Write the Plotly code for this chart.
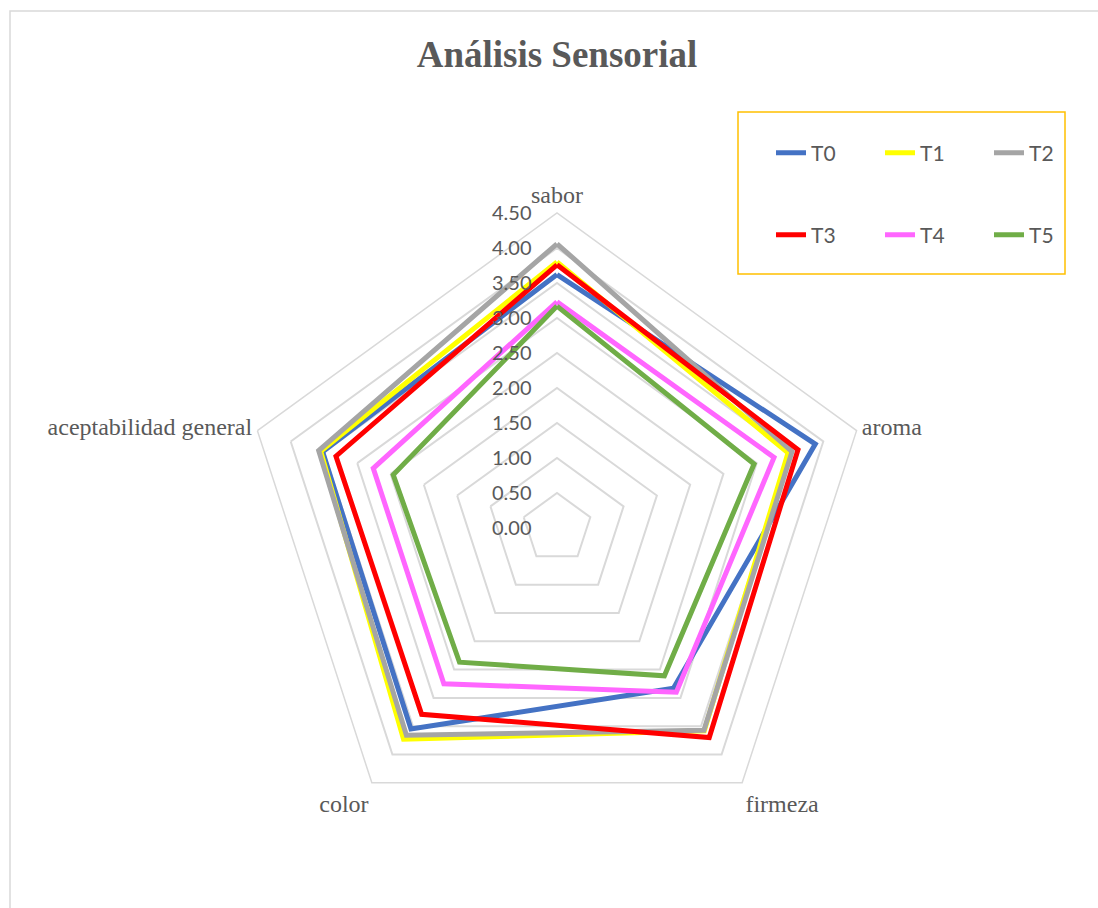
import plotly.graph_objects as go

categories = ["sabor", "aroma", "firmeza", "color", "aceptabilidad general"]
series_names = ["T0", "T1", "T2", "T3", "T4", "T5"]
T0 = [3.62, 3.88, 2.83, 3.55, 3.52]
T1 = [3.80, 3.47, 3.58, 3.73, 3.55]
T2 = [4.06, 3.53, 3.57, 3.66, 3.58]
T3 = [3.76, 3.62, 3.70, 3.29, 3.32]
T4 = [3.23, 3.26, 2.90, 2.75, 2.76]
T5 = [3.17, 2.96, 2.61, 2.37, 2.46]
values = [T0, T1, T2, T3, T4, T5]
colors = ["#4472C4", "#FFFF00", "#A5A5A5", "#FF0000", "#FF66FF", "#70AD47"]
title_text = "Análisis Sensorial"

W, H = 1098, 908
cx, cy, R = 557, 528, 315

fig = go.Figure()
for i, (name, vals, col) in enumerate(zip(series_names, values, colors)):
    fig.add_trace(go.Scatterpolar(
        r=vals + vals[:1],
        theta=categories + categories[:1],
        mode="lines",
        name=name,
        line=dict(color=col, width=5),
        legend="legend" if i < 3 else "legend2",
    ))

legend_common = dict(
    orientation="h",
    font=dict(family="Lato", size=21, color="#595959"),
    bgcolor="rgba(0,0,0,0)",
    borderwidth=0,
    entrywidth=64,
    xanchor="left",
    yanchor="middle",
)

fig.update_layout(
    width=W, height=H,
    margin=dict(l=0, r=0, t=0, b=0),
    paper_bgcolor="white",
    title=dict(text="<b>" + title_text + "</b>", x=cx / W, xanchor="center",
               y=1 - 54 / H, yanchor="middle", yref="paper",
               font=dict(family="Liberation Serif", size=37, color="#595959")),
    polar=dict(
        domain=dict(x=[(cx - R) / W, (cx + R) / W],
                    y=[(H - cy - R) / H, (H - cy + R) / H]),
        bgcolor="white",
        gridshape="linear",
        radialaxis=dict(range=[0, 4.5], dtick=0.5, tick0=0, tickformat=".2f",
                        showline=False, gridcolor="#d9d9d9", gridwidth=1.5,
                        angle=90, tickangle=90, side="counterclockwise",
                        ticks="outside", ticklen=18, tickcolor="rgba(0,0,0,0)",
                        tickfont=dict(family="Lato", size=20, color="#595959")),
        angularaxis=dict(rotation=90, direction="clockwise", showgrid=False,
                         showline=True, linecolor="#d9d9d9", linewidth=1.5,
                         ticks="",
                         tickfont=dict(family="Liberation Serif", size=24, color="#595959")),
    ),
    legend=dict(x=771 / W, y=1 - 153 / H, **legend_common),
    legend2=dict(x=771 / W, y=1 - 235 / H, **legend_common),
    shapes=[
        dict(type="rect", xref="paper", yref="paper",
             x0=10 / W, x1=1.02, y0=-0.02, y1=1 - 11 / H,
             line=dict(color="#d9d9d9", width=1.5), layer="below"),
        dict(type="rect", xref="paper", yref="paper",
             x0=738 / W, x1=1065 / W, y0=1 - 274 / H, y1=1 - 112 / H,
             line=dict(color="#FFC000", width=1.5), layer="above"),
    ],
    showlegend=True,
)

fig.write_html("out.html")
